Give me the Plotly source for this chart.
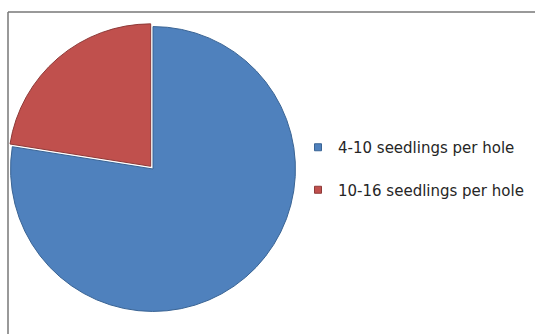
import plotly.graph_objects as go

labels = ["4-10 seedlings per hole", "10-16 seedlings per hole"]
values = [77.5, 22.5]
colors = ["#4F81BD", "#C0504D"]
edge_colors = ["#3A6494", "#8E3A38"]
pulls = [0, 0.025]

W, H = 535, 334

fig = go.Figure()
fig.add_trace(go.Pie(
    labels=labels, values=values, sort=False, direction="clockwise", rotation=0,
    marker=dict(colors=colors, line=dict(color=edge_colors, width=1)),
    pull=pulls, textinfo="none", showlegend=False, hoverinfo="label+percent",
    domain=dict(x=[7 / W, 299 / W], y=[1 - 315 / H, 1 - 23 / H]),
))
for i, lab in enumerate(labels):
    fig.add_trace(go.Scatter(
        x=[None], y=[None], mode="markers", name=lab, legendgroup=f"g{i}",
        marker=dict(symbol="square", size=7, color=colors[i],
                    line=dict(color=edge_colors[i], width=1)),
    ))

fig.update_layout(
    width=W, height=H, margin=dict(l=0, r=0, t=0, b=0),
    paper_bgcolor="white", plot_bgcolor="white",
    xaxis=dict(visible=False), yaxis=dict(visible=False),
    font=dict(family="DejaVu Sans", size=15, color="#262626"),
    legend=dict(x=298 / W, xanchor="left", y=1 - 131 / H, yanchor="top",
                tracegroupgap=20, bgcolor="rgba(0,0,0,0)",
                font=dict(family="DejaVu Sans", size=15, color="#262626")),
    shapes=[
        dict(type="line", xref="paper", yref="paper", x0=8 / W, x1=1, y0=1 - 12 / H, y1=1 - 12 / H,
             line=dict(color="#777777", width=1.5)),
        dict(type="line", xref="paper", yref="paper", x0=8 / W, x1=8 / W, y0=0, y1=1 - 12 / H,
             line=dict(color="#777777", width=1.5)),
    ],
)
fig.write_html("out.html")
